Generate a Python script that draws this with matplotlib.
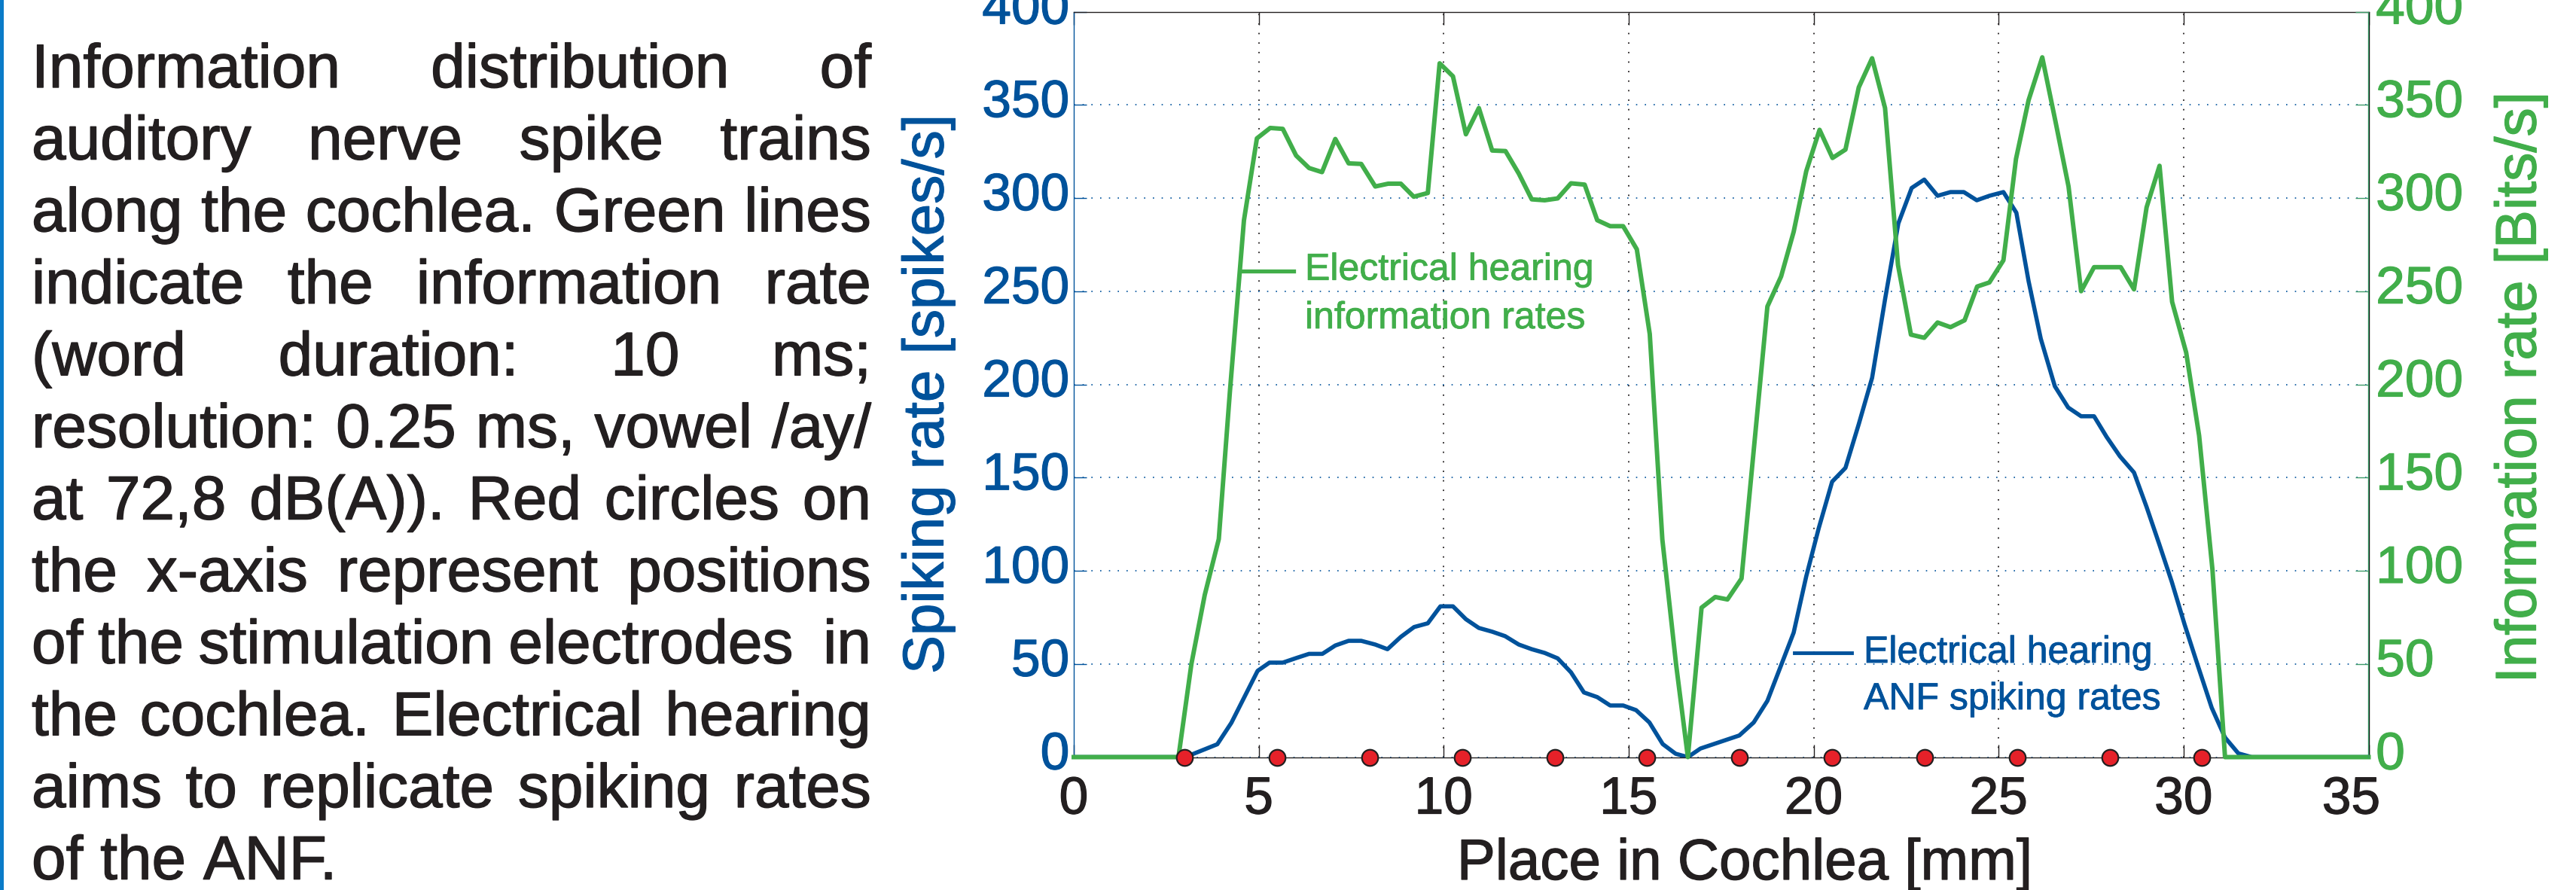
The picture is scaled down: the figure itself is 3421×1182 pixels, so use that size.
import matplotlib
matplotlib.use("Agg")
import matplotlib.pyplot as plt
import matplotlib.patheffects as pe
from matplotlib.lines import Line2D
from matplotlib.patches import Rectangle
from matplotlib.transforms import ScaledTranslation

plt.rcParams['font.family'] = ['Liberation Sans', 'DejaVu Sans']

W, H = 3421, 1182
BLUE = '#00529b'
GREEN = '#41ae4a'
GREEN_SPINE = '#3d9b68'
DARK = '#231f20'
RED = '#e62129'

# ANF spiking rate along the cochlea (blue)
anf_place = [0.0, 2.85, 3.14, 3.88, 4.26, 4.97, 5.29, 5.65, 6.02, 6.36, 6.72, 7.07, 7.43,
             7.77, 8.15, 8.48, 8.84, 9.20, 9.57, 9.91, 10.25, 10.60, 10.95, 11.31, 11.66,
             12.03, 12.38, 12.73, 13.08, 13.44, 13.79, 14.15, 14.50, 14.85, 15.20, 15.56,
             15.92, 16.27, 16.60, 16.94, 17.99, 18.38, 18.75, 19.46, 19.80, 20.14, 20.50,
             20.86, 21.22, 21.58, 21.94, 22.29, 22.65, 22.99, 23.35, 23.70, 24.06, 24.41,
             24.75, 25.13, 25.48, 25.81, 26.14, 26.52, 26.88, 27.23, 27.58, 27.92, 28.28,
             28.66, 29.00, 29.34, 29.68, 30.03, 30.39, 30.76, 31.12, 31.48, 31.84, 35.0]
anf_rate = [0, 0, 1.0, 6.9, 18.4, 46.3, 50.7, 50.7, 53.2, 55.4, 55.4, 59.9, 62.4,
            62.4, 60.4, 57.9, 64.5, 69.8, 71.8, 80.9, 80.9, 74.0, 69.3, 67.3, 64.9,
            60.4, 57.9, 55.9, 53.0, 45.5, 34.7, 32.2, 27.7, 27.7, 25.2, 18.6,
            7.0, 1.8, 0, 4.6, 11.6, 18.6, 30.2, 66.8, 97.0, 123.0, 147.8,
            155.2, 178.7, 203.5, 246.8, 286.4, 305.4, 309.9, 301.2, 303.2, 303.2, 298.8,
            301.2, 303.2, 292.1, 255.4, 224.5, 199.0, 187.6, 182.9, 182.9, 171.8, 161.4,
            152.7, 134.2, 114.4, 94.1, 71.0, 48.8, 26.5, 10.5, 2.0, 0, 0]

# information rate along the cochlea (green)
info_place = [0.0, 2.83, 3.18, 3.54, 3.92, 4.22, 4.60, 4.95, 5.31, 5.65, 6.01, 6.36, 6.71,
              7.07, 7.43, 7.77, 8.15, 8.50, 8.84, 9.19, 9.57, 9.89, 10.25, 10.60, 10.95,
              11.31, 11.67, 12.03, 12.38, 12.73, 13.08, 13.44, 13.81, 14.15, 14.50, 14.85,
              15.22, 15.57, 15.91, 16.28, 16.60, 16.97, 17.34, 17.67, 18.05, 18.75, 19.12,
              19.46, 19.80, 20.16, 20.51, 20.86, 21.22, 21.58, 21.93, 22.28, 22.63, 22.99,
              23.35, 23.70, 24.08, 24.42, 24.75, 25.13, 25.47, 25.81, 26.18, 26.54, 26.89,
              27.23, 27.58, 27.94, 28.30, 28.66, 29.00, 29.35, 29.69, 30.07, 30.42, 30.78,
              31.12, 35.0]
info_rate = [0, 0, 50.0, 87.0, 117.0, 196.0, 288.0, 332.0, 337.6, 337.1, 322.8, 316.1, 313.9,
             331.7, 318.6, 318.3, 306.2, 307.7, 307.7, 300.7, 302.7, 372.3, 365.3, 334.2, 348.3,
             325.5, 325.2, 313.1, 299.3, 298.8, 299.8, 307.9, 307.2, 288.1, 284.9, 284.9,
             272.5, 227.0, 116.8, 50.0, 0, 80.2, 85.9, 84.6, 95.8, 241.8, 257.9,
             281.9, 314.4, 336.6, 321.5, 326.0, 359.4, 375.0, 348.3, 264.1, 226.7, 225.0,
             233.2, 230.7, 234.4, 252.5, 254.7, 266.6, 321.0, 352.5, 375.5, 340.8, 306.2,
             250.0, 262.9, 262.9, 262.9, 251.0, 295.0, 317.3, 244.3, 217.1, 172.5, 100.7,
             0, 0]

# stimulation electrode positions [mm]
electrodes = [3.0, 5.5, 8.0, 10.5, 13.0, 15.5, 18.0, 20.5, 23.0, 25.5, 28.0, 30.5]

x_ticks = [0, 5, 10, 15, 20, 25, 30, 35]
y_ticks = [0, 50, 100, 150, 200, 250, 300, 350, 400]

caption_lines = [
    "Information distribution of",
    "auditory nerve spike trains",
    "along the cochlea. Green lines",
    "indicate the information rate",
    "(word duration: 10 ms;",
    "resolution: 0.25 ms, vowel /ay/",
    "at 72,8 dB(A)). Red circles on",
    "the x-axis represent positions",
    "of the stimulation electrodes  in",
    "the cochlea. Electrical hearing",
    "aims to replicate spiking rates",
    "of the ANF.",
]


def fx(px):
    return px / W


def fy(py):
    return 1 - py / H


def heavy(color, lw=0.9):
    # the source lettering is a touch heavier than Liberation Sans regular
    return [pe.withStroke(linewidth=lw, foreground=color)]


fig = plt.figure(figsize=(W / 100, H / 100), dpi=100)
fig.add_artist(Rectangle((0, 0), fx(5), 1, transform=fig.transFigure,
                         color='#0a7bc8', lw=0))

ax = fig.add_axes([fx(1426), fy(1005.5), fx(3145.5 - 1426), (1005.5 - 15.5) / H])
ax2 = ax.twinx()

ax.plot(anf_place, anf_rate, color=BLUE, lw=4.0)
ax2.plot(info_place, info_rate, color=GREEN, lw=4.3, clip_on=False)
ax2.plot(electrodes, [0] * len(electrodes), 'o', ms=15.5, mfc=RED, mec=DARK,
         mew=1.6, clip_on=False, zorder=6)

for a in (ax, ax2):
    a.set_xlim(0, 35)
    a.set_ylim(0, 400)
    a.set_yticks(y_ticks)
ax.set_xticks(x_ticks)

ax.grid(axis='x', color=DARK, ls=(0, (1, 6)), lw=1.3)
ax.grid(axis='y', color=BLUE, ls=(0, (1, 6)), lw=1.2)

ax.tick_params(axis='x', direction='in', length=12, width=1.0, color=DARK,
               labelcolor=DARK, labelsize=50, pad=18, top=True)
ax.tick_params(axis='y', direction='in', length=12, width=1.0, color=BLUE,
               labelcolor=BLUE, labelsize=50, pad=4, right=False)
ax2.tick_params(axis='y', direction='in', length=12, width=1.0, color=GREEN_SPINE,
                labelcolor=GREEN, labelsize=50, pad=7)

for s in ('top', 'bottom'):
    ax.spines[s].set_color(DARK)
ax.spines['left'].set_color(BLUE)
for s in ('left', 'top', 'bottom'):
    ax2.spines[s].set_visible(False)
ax2.spines['right'].set_color(GREEN_SPINE)
for a in (ax, ax2):
    for s in a.spines.values():
        s.set_linewidth(1.0)

up = ScaledTranslation(0, 6.5 / 72, fig.dpi_scale_trans)
for lab in ax.get_yticklabels():
    lab.set_transform(lab.get_transform() + up)
    lab.set_path_effects(heavy(BLUE))
for lab in ax2.get_yticklabels():
    lab.set_transform(lab.get_transform() + up)
    lab.set_path_effects(heavy(GREEN))
for lab in ax.get_xticklabels():
    lab.set_path_effects(heavy(DARK))
# the last x label sits inside the axis end, as in the source figure
last = ax.get_xticklabels()[-1]
last.set_transform(last.get_transform() + ScaledTranslation(-0.23, 0, fig.dpi_scale_trans))

fig.text(fx(1233), fy(523.5), 'Spiking rate [spikes/s]', rotation=90,
         ha='center', va='center', fontsize=55, color=BLUE, path_effects=heavy(BLUE))
fig.text(fx(3348), fy(515), 'Information rate [Bits/s]', rotation=90,
         ha='center', va='center', fontsize=55, color=GREEN, path_effects=heavy(GREEN))
fig.text(fx(2317), fy(1168), 'Place in Cochlea [mm]', ha='center',
         va='baseline', fontsize=55, color=DARK, path_effects=heavy(DARK))

# in-plot labels
fig.add_artist(Line2D([fx(1648), fx(1718)], [fy(360), fy(360)],
                      transform=fig.transFigure, color=GREEN, lw=3.8))
for txt, yy in (('Electrical hearing', 371.7), ('information rates', 436)):
    fig.text(fx(1733), fy(yy), txt, fontsize=36, color=GREEN, va='baseline',
             path_effects=heavy(GREEN, 0.6))
fig.add_artist(Line2D([fx(2383), fx(2459)], [fy(866.5), fy(866.5)],
                      transform=fig.transFigure, color=BLUE, lw=3.5))
for txt, yy in (('Electrical hearing', 880), ('ANF spiking rates', 942)):
    fig.text(fx(2475), fy(yy), txt, fontsize=36, color=BLUE, va='baseline',
             path_effects=heavy(BLUE, 0.6))

# justified caption on the left
renderer = fig.canvas.get_renderer()
x_left, x_right = 42, 1157
fs = 59
for i, line in enumerate(caption_lines):
    y = fy(116 + i * 95.6)
    words = line.split()
    # number of spaces between consecutive words (a double space stretches twice)
    parts = line.split(' ')
    weights, run = [], 0
    for p in parts[1:]:
        run += 1
        if p:
            weights.append(run)
            run = 0
    texts = [fig.text(0, y, w, fontsize=fs, color=DARK, va='baseline',
                      path_effects=heavy(DARK, 1.0)) for w in words]
    widths = [t.get_window_extent(renderer).width for t in texts]
    if i == len(caption_lines) - 1:
        unit = 0.278 * fs * 100 / 72
    else:
        unit = (x_right - x_left - sum(widths)) / sum(weights)
    x = x_left
    for k, (t, wd) in enumerate(zip(texts, widths)):
        t.set_x(fx(x))
        if k < len(weights):
            x += wd + unit * weights[k]

fig.savefig('out.png', dpi=100)
